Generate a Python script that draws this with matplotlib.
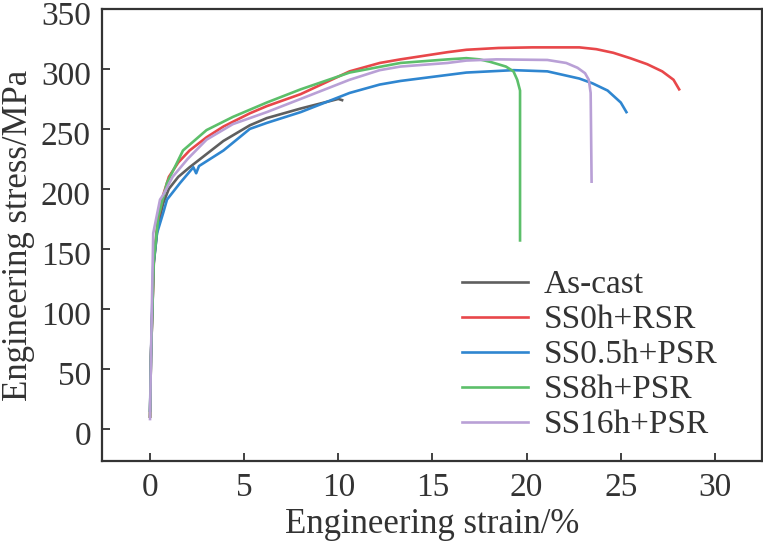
import matplotlib
matplotlib.use("Agg")
import matplotlib.pyplot as plt
import matplotlib.transforms as mtransforms

plt.rcParams['font.family'] = ['Liberation Serif', 'DejaVu Serif']

# strain (%) / stress (MPa)
ascast_strain = [0, 0.05, 0.2, 0.4, 0.7, 1.0, 1.5, 2.1, 3.0, 3.9, 5.3, 6.2, 8.0, 9.5, 10.0, 10.2]
ascast_stress = [10, 60, 138, 168, 188, 200, 210, 218, 229, 240, 253, 259, 267, 273, 275, 274]

ss0_strain = [0, 0.05, 0.2, 0.4, 0.7, 1.0, 1.5, 2.1, 3.0, 3.9, 5.3, 6.2, 8.0, 10.6, 12.2, 13.3,
              15.8, 16.8, 18.5, 20.3, 22.8, 23.7, 24.6, 25.5, 26.4, 27.2, 27.8, 28.1]
ss0_stress = [10, 60, 140, 172, 195, 210, 222, 232, 243, 252, 263, 269, 279, 298, 305, 308,
              314, 316, 317.5, 318, 318, 316.5, 313.5, 309, 304, 298, 291, 283]

ss05_strain = [0, 0.05, 0.17, 0.37, 0.7, 0.9, 1.6, 2.3, 2.45, 2.6, 3.9, 5.3, 6.2, 8.0, 10.6,
               12.2, 13.3, 15.8, 16.8, 19.3, 21.1, 22.8, 23.5, 24.3, 25.0, 25.3]
ss05_stress = [15, 60, 135, 163, 180, 191, 205, 218, 213, 219, 232, 250, 255, 264, 280,
               287, 290, 295, 297, 299, 298, 292, 288, 282, 272, 264]

ss8_strain = [0, 0.05, 0.2, 0.44, 0.9, 1.22, 1.75, 3.0, 4.4, 5.3, 6.2, 8.0, 10.6, 13.3, 15.8,
              16.8, 17.5, 18.05, 18.9, 19.3, 19.5, 19.65, 19.65]
ss8_stress = [10, 60, 140, 177, 205, 215, 232, 249, 260, 266, 272, 283, 297, 305, 308,
              309, 308, 306, 302, 298, 291, 282, 157]

ss16_strain = [0, 0.05, 0.17, 0.53, 0.7, 1.2, 2.0, 3.0, 4.4, 5.3, 6.2, 8.0, 10.6, 12.2, 13.3,
               15.8, 16.8, 18.4, 21.1, 22.1, 22.7, 23.1, 23.3, 23.4, 23.45]
ss16_stress = [8, 60, 163, 191, 195, 210, 225, 241, 254, 259, 264, 275, 291, 299, 302,
               305, 307, 308, 307.5, 305, 301, 296.5, 291, 280, 206]

labels = ["As-cast", "SS0h+RSR", "SS0.5h+PSR", "SS8h+PSR", "SS16h+PSR"]
colors = ["#5f5f5f", "#e8474a", "#2f86d0", "#5cbf6a", "#b9a0d6"]

xticks = [0, 5, 10, 15, 20, 25, 30]
yticks = [0, 50, 100, 150, 200, 250, 300, 350]

fig = plt.figure(figsize=(7.63, 5.43), dpi=100)
ax = fig.add_axes([0.1337, 0.151, 0.8650, 0.8324])

curves = [(ascast_strain, ascast_stress), (ss0_strain, ss0_stress),
          (ss05_strain, ss05_stress), (ss8_strain, ss8_stress),
          (ss16_strain, ss16_stress)]
for (x, y), lab, c in zip(curves, labels, colors):
    ax.plot(x, y, color=c, lw=1.9, label=lab, solid_joinstyle='round')

ax.set_xlim(-2.55, 32.5)
ax.set_ylim(-27, 350)
ax.set_xticks(xticks)
ax.set_yticks(yticks)
ax.tick_params(direction='in', length=6, width=1.3, labelsize=24, pad=8,
               colors='#333333', labelcolor='#333333')
for sp in ax.spines.values():
    sp.set_linewidth(1.6)
    sp.set_color('#333333')

ax.set_xlabel("Engineering strain/%", fontsize=25, color='#333333', labelpad=4)
ax.set_ylabel("Engineering stress/MPa", fontsize=25, color='#333333', labelpad=4)

# legend sits in the lower right, no frame
leg = ax.legend(loc='upper left', bbox_to_anchor=(0.545, 0.423), frameon=False,
                fontsize=24, handlelength=2.0, handletextpad=0.45, labelspacing=0.135,
                borderpad=0.0, borderaxespad=0.0)
for t in leg.get_texts():
    t.set_color('#333333')

# y labels sit a few px low in the original (keeps "350" inside the figure too)
fig.canvas.draw()
shift = mtransforms.ScaledTranslation(0, -3 / 72, fig.dpi_scale_trans)
for t in ax.get_yticklabels():
    t.set_transform(t.get_transform() + shift)

fig.savefig("out.png", dpi=100)
